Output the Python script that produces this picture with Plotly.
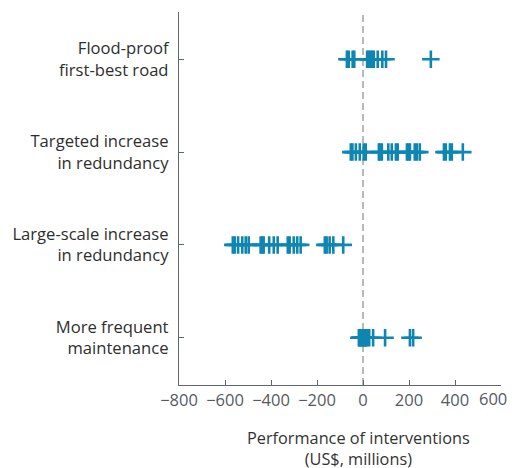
import plotly.graph_objects as go

# categories, bottom to top
categories = [
    "More frequent<br>maintenance",
    "Large-scale increase<br>in redundancy",
    "Targeted increase<br>in redundancy",
    "Flood-proof<br>first-best road",
]

# performance of each intervention run (US$, millions)
flood_proof = [-70, -62, -45, -38, 18, 25, 32, 40, 47, 64, 84, 100, 295]
targeted = [-53, -46, -31, -14, 3, 12, 69, 74, 82, 110, 125, 143, 151,
            191, 198, 204, 225, 234, 247, 352, 360, 378, 386, 434]
large_scale = [-566, -558, -543, -525, -510, -497, -445, -438, -432, -408,
               -388, -371, -327, -319, -301, -286, -271, -166, -158, -145,
               -129, -86]
maintenance = [-18, -14, -10, -6, -2, 2, 6, 10, 14, 18, 27, 44, 96, 204, 218]

series = [maintenance, large_scale, targeted, flood_proof]

xticks = [-800, -600, -400, -200, 0, 200, 400, 600]
xlabels = [f"{v}".replace("-", "\u2212") for v in xticks]

BLUE = "#0f86b1"
TICK_GREY = "#555a62"
TICK_SIZE = 16.5

fig = go.Figure()
for cat, vals in zip(categories, series):
    fig.add_trace(go.Scatter(
        x=vals, y=[cat] * len(vals), mode="markers",
        marker=dict(symbol="cross-thin", size=12.5,
                    line=dict(color=BLUE, width=2.6)),
        showlegend=False, hoverinfo="x",
    ))

fig.add_shape(type="line", x0=0, x1=0, y0=0, y1=1, xref="x", yref="paper",
              line=dict(color="#b5b9c0", width=2, dash="7px,4px"), layer="below")

# last tick label nudged left so it is not clipped by the window edge
fig.add_annotation(text=xlabels[-1], x=xticks[-1], y=0, xref="x", yref="paper",
                   yanchor="middle", yshift=-13, xshift=-8, showarrow=False,
                   font=dict(size=TICK_SIZE, color=TICK_GREY))

fig.add_annotation(text="Performance of interventions<br>(US$, millions)",
                   x=0.556, y=-0.106, xref="paper", yref="paper",
                   yanchor="top", showarrow=False,
                   font=dict(size=16.3, color="#333333"))

# page body adds an 8px margin, so the figure is sized to fit the window
fig.update_layout(
    width=508, height=460,
    margin=dict(l=171, r=15, t=4, b=83),
    plot_bgcolor="white", paper_bgcolor="white",
    font=dict(family="'Open Sans', sans-serif", size=16.6, color="#333333"),
    xaxis=dict(range=[-800, 600], tickvals=xticks,
               ticktext=xlabels[:-1] + [""],
               automargin=False, showgrid=False, zeroline=False,
               showline=True, linecolor="#5f6670", linewidth=1.3,
               ticks="inside", ticklen=5, tickcolor="#5f6670",
               tickfont=dict(size=TICK_SIZE, color=TICK_GREY)),
    yaxis=dict(type="category", categoryarray=categories, automargin=False,
               range=[-0.51, 3.51], showgrid=False, zeroline=False,
               showline=True, linecolor="#5f6670", linewidth=1.3,
               ticks="inside", ticklen=5, tickcolor="#5f6670",
               ticklabelstandoff=6,
               tickfont=dict(size=16.6, color="#2e2e2e")),
)

fig.write_html("out.html")
